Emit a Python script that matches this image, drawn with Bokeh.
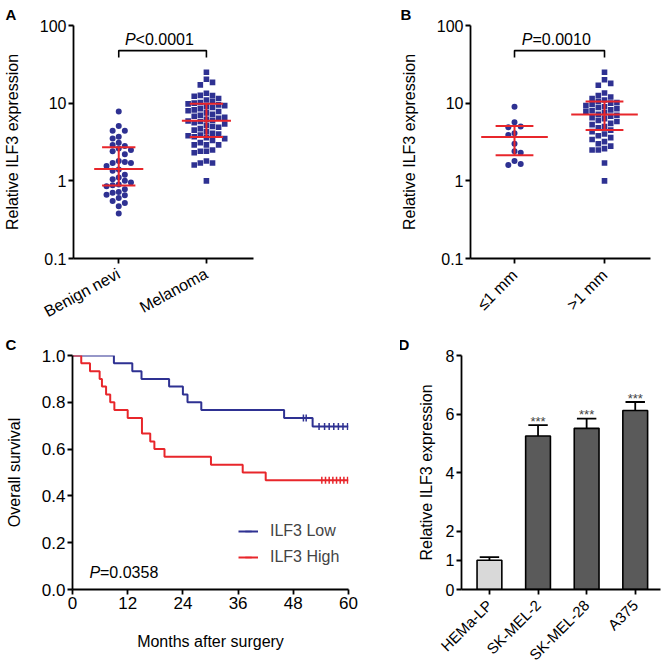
import math
from bokeh.plotting import figure
from bokeh.layouts import column, row
from bokeh.models import FixedTicker, Range1d, Legend, LegendItem, NumeralTickFormatter, Title
from bokeh.core.properties import value
from bokeh.embed import file_html
from bokeh.resources import INLINE

FONT = "Liberation Sans"
NAVY = "#2e3192"
RED = "#e8262b"

# ---------------- data ----------------
# Panel A
a_groups = ["Benign nevi", "Melanoma"]
a_benign = [7.8, 5.1, 4.4, 4.4, 3.7, 3.5, 3.1, 2.9, 2.8, 2.6, 2.5, 2.4, 2.2, 1.8,
            1.75, 1.7, 1.7, 1.55, 1.4, 1.35, 1.2, 1.1, 1.05, 1.0, 0.95, 0.9, 0.88,
            0.85, 0.78, 0.72, 0.7, 0.66, 0.65, 0.6, 0.55, 0.52, 0.47, 0.38]
a_melanoma = [25, 20.3, 18.5, 17.2, 13.4, 12.6, 12.3, 12.5, 11.5, 11, 10.5, 10.2, 10, 9.8, 9.5,
              9.3, 9.0, 8.8, 8.5, 8.2, 8.0, 7.8, 7.5, 7.2, 7.0, 6.8, 6.6, 6.4, 6.2,
              6.0, 5.9, 5.8, 5.6, 5.4, 5.2, 5.0, 4.9, 4.7, 4.5, 4.3, 4.1, 4.0, 3.9,
              3.8, 3.7, 3.6, 3.5, 3.3, 3.1, 2.9, 2.9, 2.9, 2.5, 2.4, 2.4, 2.3,
              1.8, 1.7, 1.6, 1.7, 1.0]
a_median = [1.42, 5.93]
a_q1 = [0.87, 3.66]
a_q3 = [2.71, 9.8]
a_p = "<0.0001"

# Panel B
b_groups = ["\u22641 mm", ">1 mm"]
b_thin = [9.0, 5.7, 5.0, 4.9, 4.1, 3.9, 3.0, 2.4, 2.3, 1.8, 1.65, 1.6]
b_thick = [25, 20, 18, 17, 13.5, 12.5, 12, 11.5, 11, 10.5, 10.2, 10, 9.6, 9.3, 9.0,
           8.8, 8.5, 8.2, 8.0, 7.8, 7.5, 7.2, 7.0, 6.8, 6.5, 6.3, 6.0, 5.8, 5.5, 5.3,
           5.0, 4.8, 4.5, 4.3, 4.0, 3.8, 3.6, 3.4, 3.2, 3.0, 2.8, 2.6, 2.5, 2.5, 1.7, 1.0]
b_median = [3.66, 7.14]
b_q1 = [2.13, 4.53]
b_q3 = [5.1, 10.5]
b_p = "=0.0010"

# Panel C (Kaplan-Meier)
c_low_times = [9.0, 13.0, 15.0, 21.0, 24.0, 25.0, 28.0, 46.0, 52.2]
c_low_surv = [0.967, 0.933, 0.9, 0.867, 0.833, 0.8, 0.767, 0.733, 0.697]
c_low_censor = [50.2, 50.8, 53.6, 54.8, 55.8, 56.8, 57.8, 58.8, 59.8]
c_high_times = [1.9, 3.8, 5.9, 6.4, 7.3, 8.2, 9.1, 12.0, 15.1, 16.9, 17.8, 20.0, 30.1, 37.0, 42.0]
c_high_surv = [0.967, 0.933, 0.9, 0.867, 0.833, 0.8, 0.767, 0.733, 0.667, 0.633, 0.6,
               0.567, 0.533, 0.5, 0.467]
c_high_censor = [54.2, 55.0, 55.8, 56.6, 57.4, 58.2, 59.0, 59.8]
c_labels = ["ILF3 Low", "ILF3 High"]
c_p = "=0.0358"
c_months_end = 60

# Panel D
d_lines = ["HEMa-LP", "SK-MEL-2", "SK-MEL-28", "A375"]
d_mean = [1.0, 5.25, 5.51, 6.12]
d_err = [0.11, 0.37, 0.33, 0.29]
d_sig = ["", "***", "***", "***"]


# ---------------- helpers ----------------
def make_fig(width, height, left, right, top, bottom, letter, letter_offset, **kw):
    p = figure(width=width, height=height, output_backend="svg", toolbar_location=None,
               min_border_left=left, min_border_right=right, min_border_top=top,
               min_border_bottom=bottom, **kw)
    p.title = Title(text=letter, align="left", offset=letter_offset, standoff=6,
                    text_font=FONT, text_font_style="bold", text_font_size="15px",
                    text_color="black")
    p.outline_line_color = None
    p.xgrid.grid_line_color = None
    p.ygrid.grid_line_color = None
    p.background_fill_color = "white"
    p.border_fill_color = "white"
    for ax in p.axis:
        ax.axis_line_width = 1.8
        ax.axis_line_color = "black"
        ax.major_tick_line_width = 1.8
        ax.major_tick_line_color = "black"
        ax.major_tick_out = 5
        ax.major_tick_in = 0
        ax.minor_tick_out = 0
        ax.minor_tick_in = 0
        ax.major_label_text_font = FONT
        ax.major_label_text_font_size = "16px"
        ax.major_label_text_color = "black"
        ax.major_label_standoff = 2
        ax.axis_label_text_font = FONT
        ax.axis_label_text_font_size = "16px"
        ax.axis_label_text_font_style = "normal"
        ax.axis_label_text_color = "black"
    return p


def swarm(vals, center, ppd, ppu, step_px=6.2, min_dy=6.0):
    """grid beeswarm: x positions computed from values (log scale)"""
    order = sorted(range(len(vals)), key=lambda i: -vals[i])
    placed = []
    xs = [0.0] * len(vals)
    for n, i in enumerate(order):
        ypx = math.log10(vals[i]) * ppd
        cands = [0]
        for m in range(1, 30):
            cands += ([m, -m] if n % 2 == 0 else [-m, m])
        for c in cands:
            if all(not (pc == c and abs(py - ypx) < min_dy) for pc, py in placed):
                break
        placed.append((c, ypx))
        xs[i] = center + c * step_px / ppu
    return xs


def dot_panel(p, groups, g1, g2, med, q1, q3, ptxt, x0, x1, frame_w, med_hw, iqr_hw):
    ppu = frame_w / (x1 - x0)
    ppd = 238 / 3.0
    xs1 = swarm(g1, 1, ppd, ppu)
    xs2 = swarm(g2, 2, ppd, ppu)
    p.scatter(xs1, g1, marker="circle", size=6.0, fill_color=NAVY, line_color=None)
    p.scatter(xs2, g2, marker="square", size=5.6, fill_color=NAVY, line_color=None)
    for k, c in enumerate([1, 2]):
        p.line([c - med_hw, c + med_hw], [med[k], med[k]], color=RED, line_width=2)
        p.line([c - iqr_hw, c + iqr_hw], [q1[k], q1[k]], color=RED, line_width=2)
        p.line([c - iqr_hw, c + iqr_hw], [q3[k], q3[k]], color=RED, line_width=2)
        p.line([c, c], [q1[k], q3[k]], color=RED, line_width=2)
    # bracket
    p.line([1, 1, 2, 2], [38.8, 47.5, 47.5, 38.8], color="black", line_width=1.6)
    p.text(x=[1.5], y=[65.5], text=["P"], text_font=value(FONT), text_font_size=value("16px"),
           text_font_style="italic", text_align="right", text_baseline="alphabetic", x_offset=-27)
    p.text(x=[1.5], y=[65.5], text=[ptxt], text_font=value(FONT), text_font_size=value("16px"),
           text_align="left", text_baseline="alphabetic", x_offset=-27)
    p.xaxis.ticker = FixedTicker(ticks=[1, 2])
    p.xaxis.major_label_overrides = {1: groups[0], 2: groups[1]}
    p.xaxis.major_label_standoff = 9
    p.yaxis.ticker = FixedTicker(ticks=[0.1, 1, 10, 100])
    p.yaxis.major_label_overrides = {0.1: "0.1", 1: "1", 10: "10", 100: "100"}
    p.yaxis.axis_label = "Relative ILF3 expression"
    p.yaxis.axis_label_standoff = 16


# ---------------- Panel A ----------------
pA = make_fig(330, 330, 70, 77, 23, 69, "A", -68, y_axis_type="log",
              x_range=Range1d(0.484, 2.537), y_range=Range1d(0.1, 100))
dot_panel(pA, a_groups, a_benign, a_melanoma, a_median, a_q1, a_q3, a_p,
          0.484, 2.537, 183, 0.28, 0.19)
pA.xaxis.major_label_orientation = 0.5

# ---------------- Panel B ----------------
pB = make_fig(333, 330, 140, 13, 23, 69, "B", -70, y_axis_type="log",
              x_range=Range1d(0.511, 2.511), y_range=Range1d(0.1, 100))
dot_panel(pB, b_groups, b_thin, b_thick, b_median, b_q1, b_q3, b_p,
          0.511, 2.511, 180, 0.37, 0.21)
pB.xaxis.major_label_orientation = math.pi / 4

# ---------------- Panel C ----------------
pC = make_fig(400, 342, 72, 52, 25, 79, "C", -67,
              x_range=Range1d(0, c_months_end), y_range=Range1d(0, 1))


def km_xy(times, surv, end):
    return [0] + list(times) + [end], [1.0] + list(surv) + [surv[-1]]


def surv_at(times, surv, t):
    s = 1.0
    for ti, si in zip(times, surv):
        if ti <= t:
            s = si
    return s


lx, ly = km_xy(c_low_times, c_low_surv, c_months_end)
hx, hy = km_xy(c_high_times, c_high_surv, c_months_end)
r_low = pC.step(lx, ly, mode="after", color=NAVY, line_width=2)
r_high = pC.step(hx, hy, mode="after", color=RED, line_width=2)
r_lowc = pC.scatter(c_low_censor, [surv_at(c_low_times, c_low_surv, t) for t in c_low_censor],
                    marker="dash", angle=math.pi / 2, size=7, line_color=NAVY, line_width=1.5)
r_highc = pC.scatter(c_high_censor, [surv_at(c_high_times, c_high_surv, t) for t in c_high_censor],
                     marker="dash", angle=math.pi / 2, size=7, line_color=RED, line_width=1.5)
leg = Legend(items=[LegendItem(label=c_labels[0], renderers=[r_low, r_lowc]),
                    LegendItem(label=c_labels[1], renderers=[r_high, r_highc])],
             location=(166, 23), padding=0, margin=0, spacing=8, glyph_width=20,
             glyph_height=16, label_standoff=12, border_line_alpha=0,
             background_fill_alpha=0, label_text_font=FONT, label_text_font_size="16px")
pC.add_layout(leg)
pC.text(x=[3.7], y=[0.071], text=["P"], text_font=value(FONT), text_font_size=value("16px"),
        text_font_style="italic", text_align="left", text_baseline="alphabetic")
pC.text(x=[3.7], y=[0.071], text=[c_p], text_font=value(FONT), text_font_size=value("16px"),
        text_align="left", text_baseline="alphabetic", x_offset=10.5)
pC.xaxis.ticker = FixedTicker(ticks=[0, 12, 24, 36, 48, 60])
pC.yaxis.ticker = FixedTicker(ticks=[0, 0.2, 0.4, 0.6, 0.8, 1.0])
pC.yaxis.formatter = NumeralTickFormatter(format="0.0")
pC.axis.major_label_text_font_size = "17px"
pC.xaxis.axis_label = "Months after surgery"
pC.yaxis.axis_label = "Overall survival"
pC.xaxis.axis_label_standoff = 21
pC.yaxis.axis_label_standoff = 16

# ---------------- Panel D ----------------
pD = make_fig(263, 342, 61, 3, 25, 79, "D", -63,
              x_range=Range1d(-0.575, 3.52), y_range=Range1d(0, 8))
dx = list(range(len(d_lines)))
colors = ["#d9d9d9"] + ["#5a5a5a"] * (len(d_lines) - 1)
for i in dx:
    top = d_mean[i] + d_err[i]
    pD.segment(x0=[i], y0=[d_mean[i]], x1=[i], y1=[top], line_color="black", line_width=1.8)
    pD.segment(x0=[i - 0.2], y0=[top], x1=[i + 0.2], y1=[top], line_color="black", line_width=1.8)
pD.vbar(x=dx, top=d_mean, width=0.51, fill_color=colors, line_color="black", line_width=1.6)
pD.text(x=dx, y=[m + e for m, e in zip(d_mean, d_err)], text=d_sig, text_font=value(FONT),
        text_font_size=value("13px"), text_color="#444444", text_align="center",
        text_baseline="alphabetic", y_offset=-4)
pD.xaxis.ticker = FixedTicker(ticks=dx)
pD.xaxis.major_label_overrides = {i: n for i, n in enumerate(d_lines)}
pD.xaxis.major_label_orientation = math.pi / 4
pD.xaxis.major_label_text_font_size = "15px"
pD.xaxis.major_label_standoff = 8
pD.yaxis.ticker = FixedTicker(ticks=[0, 1, 2, 4, 6, 8])
pD.yaxis.axis_label = "Relative ILF3 expression"
pD.yaxis.axis_label_standoff = 8

layout = column(row(pA, pB), row(pC, pD))
open("out.html", "w").write(file_html(layout, INLINE))
